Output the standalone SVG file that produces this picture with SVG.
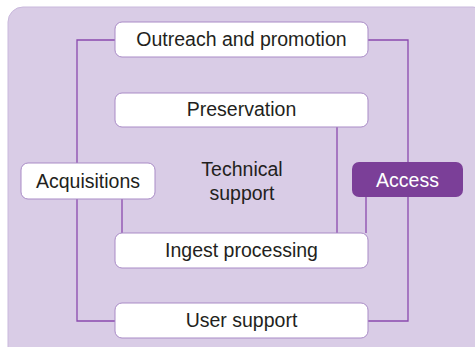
<svg xmlns="http://www.w3.org/2000/svg" width="475" height="347" viewBox="0 0 475 347">
<style>
.box{fill:#ffffff;stroke:#a98bc6;stroke-width:1}
.lbl{font-family:"Liberation Sans",Arial,sans-serif;font-size:19.5px;fill:#231f20;text-anchor:middle}
.con{fill:none;stroke:#8a4aae;stroke-width:1.3}
</style>
<rect x="8" y="7" width="480" height="360" rx="15" fill="#d9cce6" stroke="#c9b8dc" stroke-width="1"/>
<g id="connectors">
<polyline class="con" points="115,40 77,40 77,163"/>
<polyline class="con" points="77,199 77,321 115,321"/>
<line class="con" x1="122" y1="199" x2="122" y2="233"/>
<polyline class="con" points="368,40 408,40 408,162"/>
<polyline class="con" points="408,197 408,321 368,321"/>
<line class="con" x1="366" y1="197" x2="366" y2="233"/>
<line class="con" x1="337" y1="127" x2="337" y2="233"/>
</g>
<g id="outreach"><rect class="box" x="115" y="22" width="253" height="35" rx="7"/><text class="lbl" x="241.5" y="46">Outreach and promotion</text></g>
<g id="preservation"><rect class="box" x="115" y="93" width="253" height="34" rx="7"/><text class="lbl" x="241.5" y="116">Preservation</text></g>
<g id="acquisitions"><rect class="box" x="21" y="163" width="134" height="36" rx="7"/><text class="lbl" x="88" y="187.5">Acquisitions</text></g>
<g id="technical"><text class="lbl" x="242" y="176">Technical</text><text class="lbl" x="242" y="200">support</text></g>
<g id="access"><rect x="352" y="162" width="111" height="35" rx="7" fill="#7b3f98"/><text class="lbl" x="407.5" y="186.5" style="fill:#ffffff">Access</text></g>
<g id="ingest"><rect class="box" x="115" y="233" width="253" height="35" rx="7"/><text class="lbl" x="241.5" y="256.5">Ingest processing</text></g>
<g id="user"><rect class="box" x="115" y="303" width="253" height="35" rx="7"/><text class="lbl" x="241.5" y="327">User support</text></g>
</svg>
